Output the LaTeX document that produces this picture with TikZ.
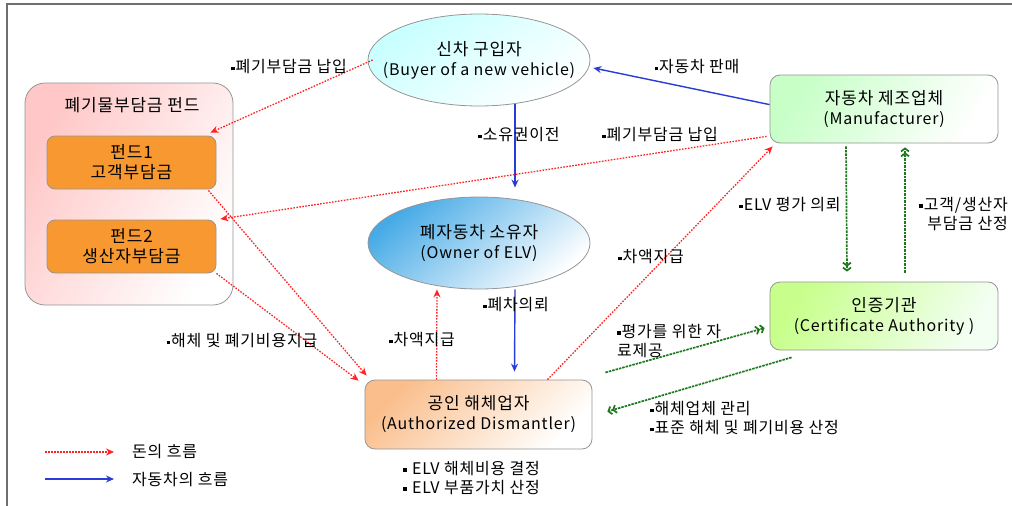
\documentclass[tikz,border=0pt]{standalone}
\usepackage{fontspec}
\setmainfont{Noto Sans CJK KR}[LetterSpace=5]
\usetikzlibrary{arrows.meta,shapes.geometric,calc}
\definecolor{money}{RGB}{255,35,35}
\definecolor{car}{RGB}{40,60,215}
\definecolor{cert}{RGB}{30,120,30}
\definecolor{framegray}{RGB}{110,110,110}
\definecolor{edgegray}{RGB}{150,150,150}
\definecolor{fundorange}{RGB}{247,152,48}
\definecolor{ownerblue}{RGB}{70,170,230}
\definecolor{cagreen}{RGB}{200,255,140}
\definecolor{dispeach}{RGB}{250,190,140}
\newcommand{\bul}{\raisebox{0.3ex}{\rule{3.5pt}{3.5pt}}\kern1pt}
\newcommand{\en}{\fontsize{16}{20}\selectfont}
\begin{document}
\begin{tikzpicture}[x=1pt,y=-1pt,
  moneyline/.style={money, line width=1.3pt, dash pattern=on 1.6pt off 1.4pt, -{Stealth[length=8pt,width=7pt]}},
  carline/.style={car, line width=1.4pt, -{Stealth[length=8pt,width=7pt]}},
  certline/.style={cert, line width=1.7pt, dash pattern=on 2.5pt off 1pt, -{Straight Barb[length=3pt,width=8pt] Straight Barb[length=3pt,width=8pt]}},
  lbl/.style={font=\fontsize{16}{19}\selectfont, inner sep=0pt, align=left},
  bigtext/.style={font=\fontsize{17}{20}\selectfont, align=center, inner sep=0pt},
  ell/.style={ellipse, draw=edgegray, line width=0.8pt, minimum width=222pt, minimum height=92pt, inner sep=0pt},
  rbox/.style={rectangle, rounded corners=10pt, draw=edgegray, line width=0.8pt, minimum width=228pt, minimum height=68pt, inner sep=0pt, bigtext},
  fundsub/.style={rectangle, rounded corners=8pt, draw=edgegray, line width=0.8pt, fill=fundorange, minimum width=169pt, minimum height=53pt, inner sep=0pt, bigtext}
]
\useasboundingbox (0,0) rectangle (1012,506);
\fill[white] (0,0) rectangle (1012,506);
% frame
\draw[framegray, line width=2pt] (6.5,506) -- (6.5,3.5) -- (1012,3.5);

% fund container
\node[rectangle, rounded corners=20pt, draw=edgegray, line width=0.8pt,
      minimum width=208pt, minimum height=222pt, inner sep=0pt,
      top color=red!22, bottom color=white, shading angle=60] (fundbox) at (129,194) {};
\node[bigtext] (fundtitle) at (132,105) {폐기물부담금 펀드};
\node[fundsub] (fund1) at (131.5,162.5) {펀드1\\고객부담금};
\node[fundsub] (fund2) at (131.5,246.5) {펀드2\\생산자부담금};

% ellipses
\node[ell, top color=cyan!22, bottom color=white, shading angle=35] (buyer) at (479,60) {};
\node[bigtext] (buyertext) at (buyer.center) {신차 구입자\\{\en(Buyer of a new vehicle)}};
\node[ell, top color=ownerblue, bottom color=white, shading angle=40] (owner) at (479,243) {};
\node[bigtext] (ownertext) at (owner.center) {폐자동차 소유자\\{\en(Owner of ELV)}};

% boxes
\node[rbox, top color=green!22, bottom color=white, shading angle=60] (mfr) at (884,109) {자동차 제조업체\\{\en(Manufacturer)}};
\node[rbox, top color=cagreen, bottom color=green!5, shading angle=60] (ca) at (884,316) {인증기관\\{\en(Certificate Authority )}};
\node[rbox, minimum width=227pt, minimum height=69pt, top color=dispeach, bottom color=white, shading angle=45] (dis) at (478.5,414.5) {공인 해체업자\\{\en(Authorized Dismantler)}};

% connectors
\draw[moneyline] ($(buyer.west)+(5,0)$) -- ($(fund1.north east)+(-6,-3)$);
\draw[carline] ($(mfr.north west)+(0,30)$) -- ($(buyer.east)+(3,8)$);
\draw[carline] ($(buyer.south)+(36,-2)$) -- ($(owner.north)+(36,-9)$);
\draw[moneyline] ($(mfr.south west)+(-3,-7)$) -- ($(fundbox.east)+(-13,25)$);
\draw[carline] ($(owner.south)+(36,0)$) -- ($(dis.north)+(36,-8)$);
\draw[moneyline] ($(dis.north)+(-42,0)$) -- ($(owner.south)+(-42,0)$);
\draw[moneyline] ($(dis.north)+(69,0)$) -- ($(mfr.south west)+(3,3)$);
\draw[moneyline] ($(fund1.south east)+(-8,1)$) -- ($(dis.north west)+(2,-4)$);
\draw[moneyline] ($(fund2.south east)+(0,0)$) -- ($(dis.north west)+(-6,1)$);
\draw[certline] ($(mfr.south)+(-38,3)$) -- ($(ca.north)+(-37,-10)$);
\draw[certline] ($(ca.north)+(21,-9)$) -- ($(mfr.south)+(21,4)$);
\draw[certline] ($(dis.east)+(13,-42)$) -- ($(ca.west)+(-5,12)$);
\draw[certline] ($(ca.south west)+(22,7)$) -- ($(dis.east)+(15,-3)$);

% labels
\node[lbl] (l1) at (289,67) {\bul 폐기부담금 납입};
\node[lbl] (l2) at (697,67) {\bul 자동차 판매};
\node[lbl] (l3) at (519,135) {\bul 소유권이전};
\node[lbl] (l4) at (660,135) {\bul 폐기부담금 납입};
\node[lbl] (l5) at (790,205) {\bul ELV 평가 의뢰};
\node[lbl, anchor=east, align=right] (l6) at (1008,214) {\bul 고객/생산자\\부담금 산정};
\node[lbl] (l7) at (651,257) {\bul 차액지급};
\node[lbl] (l8) at (516,305) {\bul 폐차의뢰};
\node[lbl] (l9) at (422,340) {\bul 차액지급};
\node[lbl] (l10) at (242,341) {\bul 해체 및 폐기비용지급};
\node[lbl, anchor=west] (l11) at (617,341) {\bul 평가를 위한 자\\료제공};
\node[lbl, anchor=west] (l12) at (650,418.5) {\bul 해체업체 관리\\\bul 표준 해체 및 폐기비용 산정};
\node[lbl, anchor=west] (l13) at (403,478) {\bul\ ELV 해체비용 결정\\\bul\ ELV 부품가치 산정};

% legend
\coordinate (lr1) at (45,452);
\coordinate (lr2) at (114,452);
\coordinate (lb1) at (45,479);
\coordinate (lb2) at (114,479);
\draw[moneyline] (lr1) -- (lr2);
\draw[carline] (lb1) -- (lb2);
\node[lbl, anchor=west] (leg1) at (132,452) {돈의 흐름};
\node[lbl, anchor=west] (leg2) at (132,480) {자동차의 흐름};
\end{tikzpicture}
\end{document}
